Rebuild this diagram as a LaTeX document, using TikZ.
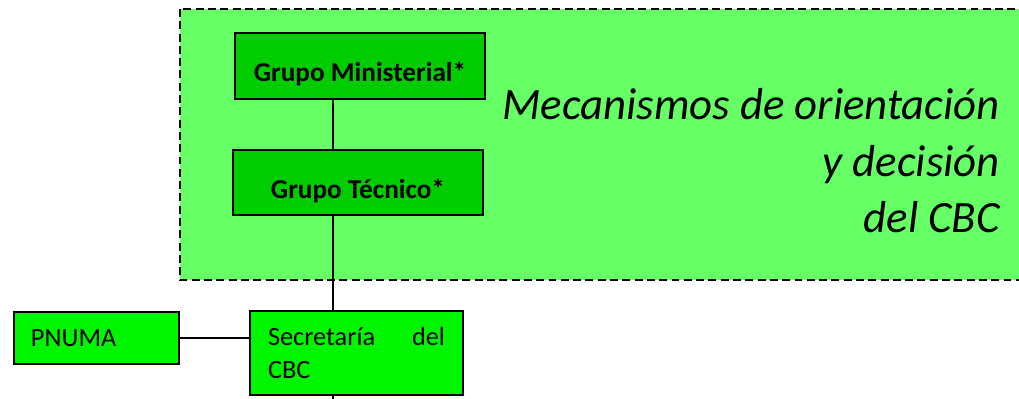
\documentclass[tikz,border=0pt]{standalone}
\usepackage{fontspec}
\setmainfont{Carlito}
\usetikzlibrary{calc}
\definecolor{zonagreen}{RGB}{102,255,102}
\definecolor{grupogreen}{RGB}{0,204,0}
\definecolor{boxgreen}{RGB}{0,245,0}
\tikzset{
	grupobox/.style={draw=black, line width=1pt, fill=grupogreen, font=\fontsize{15.5}{18}\selectfont\bfseries, inner sep=0pt, text height=18pt, text depth=0pt},
	plainbox/.style={draw=black, line width=1pt, fill=boxgreen, font=\fontsize{15}{18.7}\selectfont, inner sep=0pt},
	link/.style={line width=0.8pt}
}

\begin{document}
\begin{tikzpicture}[x=0.02cm, y=-0.02cm]
			%%%%% START %%%%%
			\useasboundingbox (0, 0) rectangle (1019, 399);
			\clip (0, 0) rectangle (1019, 399);
			
			\draw[fill=zonagreen, dash pattern=on 4.5pt off 2.5pt, line width=0.8pt] (180, 9) rectangle (1040, 280);
			
			\node[anchor=north east, align=right, font=\fontsize{25.5}{32.3}\selectfont\itshape] (zona) at (1006, 82)
				{Mecanismos de orientación\\ y decisión\\ del CBC};
			
			\node[grupobox, minimum width=250*0.02cm, minimum height=66*0.02cm] (ministerial) at (360, 66) {Grupo Ministerial*};
			\node[grupobox, minimum width=250*0.02cm, minimum height=65*0.02cm] (tecnico) at (358, 182.5) {Grupo Técnico*};
			
			\node[plainbox, minimum width=165*0.02cm, minimum height=52*0.02cm, text width=131*0.02cm, align=left] (pnuma) at (96.5, 338) {PNUMA};
			\node[plainbox, minimum width=213*0.02cm, minimum height=84*0.02cm, text width=177*0.02cm, align=justify] (secretaria) at (356.5, 353) {Secretaría del CBC};
			
			\coordinate (trunk) at (333, 420);
			
			\draw[link] (ministerial.south -| trunk) -- (tecnico.north -| trunk);
			\draw[link] (tecnico.south -| trunk) -- (secretaria.north -| trunk);
			\draw[link] (secretaria.south -| trunk) -- (trunk);
			\draw[link] (pnuma.east) -- (pnuma.east -| secretaria.west);
			
			%%%%% END %%%%%
\end{tikzpicture}
\end{document}
